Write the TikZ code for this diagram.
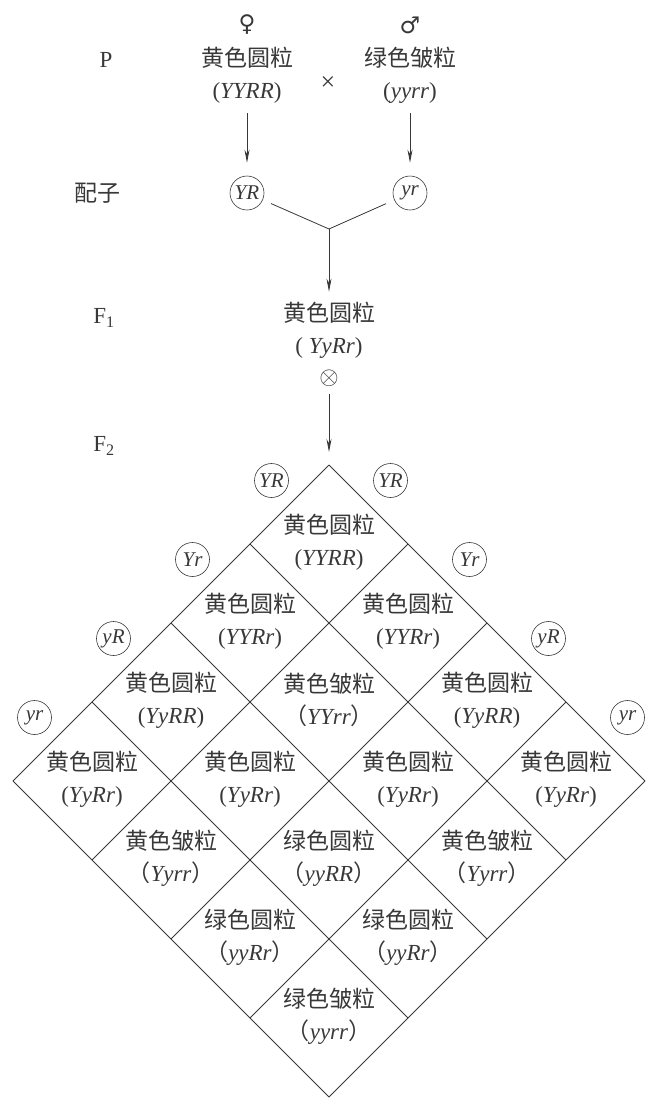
\documentclass[tikz,border=0pt]{standalone}
\usepackage{fontspec}
\setmainfont{Liberation Serif}
\newfontfamily\cjk{Noto Sans CJK SC}
\newfontfamily\symb{DejaVu Sans}
\usepackage{xcolor}
\usetikzlibrary{arrows.meta,calc}
\definecolor{ink}{gray}{0.22}
\tikzset{
  % text of one generation
  gentext/.style={text=ink, align=center, inner sep=2pt,
    font=\fontsize{23}{32}\selectfont},
  % circled gamete
  gamete/.style={draw=ink, circle, line width=0.6pt, inner sep=0pt,
    minimum size=34pt, text=ink, font=\fontsize{21}{21}\selectfont\itshape},
  % thin arrow
  down arrow/.style={draw=ink, line width=0.8pt,
    -{Stealth[length=13pt,width=5pt]}},
}

\begin{document}
\begin{tikzpicture}[x=1pt,y=-1pt]
\useasboundingbox (0,0) rectangle (647,1098);
  % P generation
  \node[gentext] (P) at (106,60) {P};
  \node[gentext] (fem) at (247,25) {\symb ♀};
  \node[gentext] (mom) at (247,75) {{\cjk 黄色圆粒}\\(\textit{YYRR})};
  \node[gentext,font=\fontsize{26}{26}\selectfont] (cross) at (328,84) {×};
  \node[gentext] (mal) at (410,25) {\symb ♂};
  \node[gentext] (dad) at (410,75) {{\cjk 绿色皱粒}\\(\textit{yyrr})};
  % gametes
  \node[gentext] (gam) at (97,193) {\cjk 配子};
  \node[gamete] (gm) at (247,193) {YR};
  \node[gamete] (gd) at (410,193) {yr};
  \draw[down arrow, shorten <=8pt, shorten >=13pt] (mom.south) -- (gm.north);
  \draw[down arrow, shorten <=8pt, shorten >=13pt] (dad.south) -- (gd.north);
  \coordinate (join) at (329,229);
  \draw[ink, line width=0.8pt, shorten <=9pt, shorten >=9pt] (gm) -- (join) -- (gd);
  % F1
  \node[gentext] (F1) at (104,318) {F\textsubscript{1}};
  \node[gentext] (f1) at (329,330) {{\cjk 黄色圆粒}\\( \textit{YyRr})};
  \node[gentext, inner sep=0pt] (self) at (329,378) {$\otimes$};
  \draw[down arrow, shorten >=8pt] (join) -- (f1.north);
  % F2
  \node[gentext] (F2) at (104,446) {F\textsubscript{2}};
  \coordinate (top) at (329,465);
  \draw[down arrow, shorten <=8pt, shorten >=13pt] (self) -- (top);
  \foreach \k in {0,...,4}{
    \draw[ink, line width=0.8pt] ($(top)+(\k*79,\k*79)$) -- ++(-316,316);
    \draw[ink, line width=0.8pt] ($(top)+(-\k*79,\k*79)$) -- ++(316,316);
  }
  \foreach \g [count=\i from 0] in {YR,Yr,yR,yr}{
    \node[gamete] (gl\i) at ({329-(\i+.5)*79-18},{465+(\i+.5)*79-24}) {\g};
    \node[gamete] (gr\i) at ({329+(\i+.5)*79+22},{465+(\i+.5)*79-24}) {\g};
  }
  \foreach \i/\j/\ph/\gt in {
    0/0/黄色圆粒/(\textit{YYRR}),
    1/0/黄色圆粒/(\textit{YYRr}),
    0/1/黄色圆粒/(\textit{YYRr}),
    2/0/黄色圆粒/(\textit{YyRR}),
    1/1/黄色皱粒/{{\cjk （}\textit{YYrr}{\cjk ）}},
    0/2/黄色圆粒/(\textit{YyRR}),
    3/0/黄色圆粒/(\textit{YyRr}),
    2/1/黄色圆粒/(\textit{YyRr}),
    1/2/黄色圆粒/(\textit{YyRr}),
    0/3/黄色圆粒/(\textit{YyRr}),
    3/1/黄色皱粒/{{\cjk （}\textit{Yyrr}{\cjk ）}},
    2/2/绿色圆粒/{{\cjk （}\textit{yyRR}{\cjk ）}},
    1/3/黄色皱粒/{{\cjk （}\textit{Yyrr}{\cjk ）}},
    3/2/绿色圆粒/{{\cjk （}\textit{yyRr}{\cjk ）}},
    2/3/绿色圆粒/{{\cjk （}\textit{yyRr}{\cjk ）}},
    3/3/绿色皱粒/{{\cjk （}\textit{yyrr}{\cjk ）}}}{
    \node[gentext] (cell\i\j) at ({329+(\j-\i)*79},{465+(\i+\j+1)*79-2}) {{\cjk\ph}\\\gt};
  }
\end{tikzpicture}
\end{document}
